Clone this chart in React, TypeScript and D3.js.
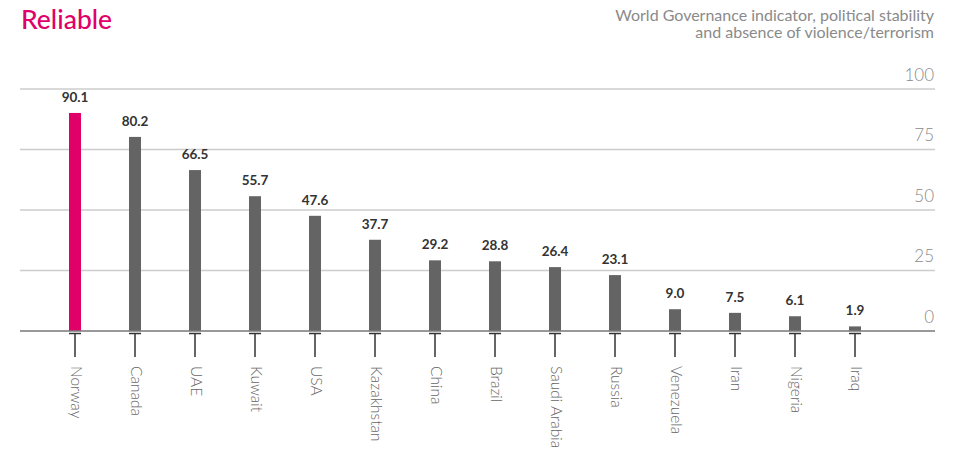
import React from "react";
import * as d3 from "d3";

const countries = ["Norway", "Canada", "UAE", "Kuwait", "USA", "Kazakhstan", "China", "Brazil", "Saudi Arabia", "Russia", "Venezuela", "Iran", "Nigeria", "Iraq"];
const values = [90.1, 80.2, 66.5, 55.7, 47.6, 37.7, 29.2, 28.8, 26.4, 23.1, 9.0, 7.5, 6.1, 1.9];
const highlighted = ["Norway"];
const yTicks = [0, 25, 50, 75, 100];
const title = "Reliable";
const subtitle = ["World Governance indicator, political stability", "and absence of violence/terrorism"];

const W = 959;
const H = 449;
const FONT = "Lato, 'Open Sans', sans-serif";
const PINK = "#e0006a";
const GREY = "#646464";

export default function App() {
  const x = d3.scaleBand<string>().domain(countries).range([45, 885]).paddingInner(0.8).paddingOuter(0.4);
  const y = d3.scaleLinear().domain([0, 100]).range([331, 89]);
  const gridLeft = 20;
  const gridRight = 935;
  const base = y(0);

  return (
    <svg width={W} height={H} style={{ display: "block", position: "absolute", left: 0, top: 0 }} fontFamily={FONT}>
      <rect width={W} height={H} fill="#fff" />
      <text x={21} y={29} fontSize={26.5} fontWeight={500} fill={PINK}>{title}</text>
      {subtitle.map((s, i) => (
        <text key={i} x={934} y={21 + i * 16.5} fontSize={16} fontWeight={400} fill="#8a8a8a" textAnchor="end">{s}</text>
      ))}
      {yTicks.filter((t) => t > 0).map((t) => (
        <line key={t} x1={gridLeft} x2={gridRight} y1={y(t)} y2={y(t)} stroke="#cccccc" strokeWidth={1.5} />
      ))}
      {yTicks.map((t) => (
        <text key={"l" + t} x={934} y={y(t) - 8.5} fontSize={17} fontWeight={300} fill="#8a8a8a" textAnchor="end">{t}</text>
      ))}
      {countries.map((c, i) => {
        const bx = x(c)!;
        const bw = x.bandwidth();
        const cx = bx + bw / 2;
        return (
          <g key={c}>
            <rect x={bx} y={y(values[i])} width={bw} height={base - y(values[i])} fill={highlighted.includes(c) ? PINK : GREY} />
            <text x={cx} y={y(values[i]) - 11} fontSize={13.5} fontWeight={700} fill="#333" textAnchor="middle">{values[i].toFixed(1)}</text>
            <line x1={bx} x2={bx + bw} y1={base + 2.5} y2={base + 2.5} stroke="#333" strokeWidth={1.5} />
            <line x1={cx} x2={cx} y1={base + 2} y2={base + 26} stroke="#333" strokeWidth={1.5} />
            <text transform={`translate(${cx},${base + 35}) rotate(90)`} fontSize={15.5} fontWeight={300} fill="#666" dominantBaseline="middle">{c}</text>
          </g>
        );
      })}
      <line x1={gridLeft} x2={gridRight} y1={base} y2={base} stroke="#777" strokeWidth={1.5} />
    </svg>
  );
}
